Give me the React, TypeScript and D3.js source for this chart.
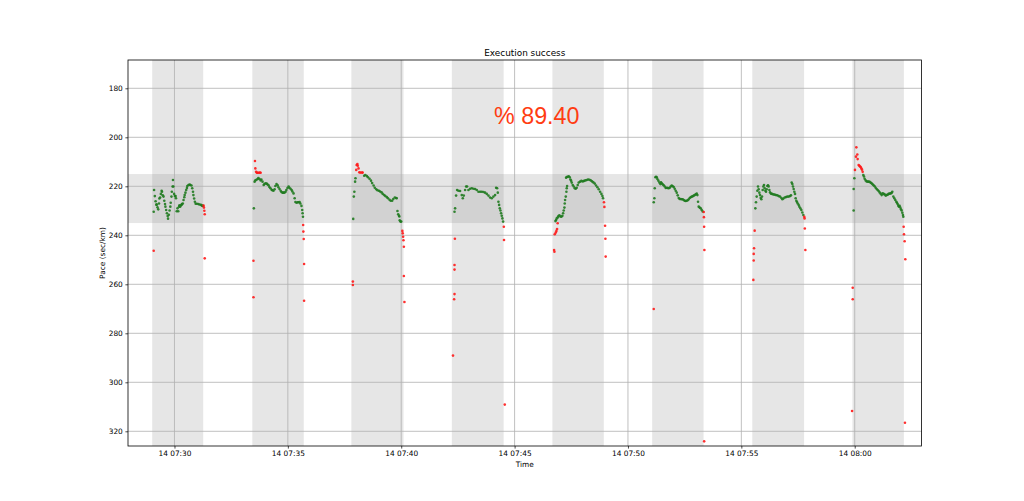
import { useEffect, useRef } from 'react';
import * as d3 from 'd3';

// [seconds after 07:00:00, pace sec/km]
const rep1: [number, number][] = [
  [1745, 230.4], [1746, 221.5], [1748, 224.0], [1750, 226.1], [1752, 227.5], [1753, 227.5], [1755, 228.6], [1757, 229.4],
  [1759, 227.0], [1760, 225.0], [1762, 224.6], [1764, 223.1], [1766, 221.8], [1767, 222.2], [1769, 223.7], [1771, 224.2],
  [1773, 225.9], [1775, 227.2], [1776, 228.3], [1778, 229.7], [1780, 231.0], [1782, 232.1], [1783, 233.2], [1785, 231.6],
  [1787, 229.9], [1789, 228.3], [1790, 226.7], [1792, 224.2], [1793, 222.2], [1795, 220.1], [1796, 217.4], [1797, 220.1],
  [1799, 223.1], [1801, 224.0], [1803, 224.0], [1804, 224.9], [1806, 230.2], [1808, 229.0], [1810, 230.2], [1812, 228.3],
  [1813, 227.8], [1815, 228.3], [1817, 227.8], [1819, 227.5], [1820, 227.2], [1822, 227.0], [1824, 225.6], [1826, 224.5],
  [1827, 223.6], [1829, 222.6], [1831, 221.5], [1833, 220.7], [1834, 219.9], [1837, 219.5], [1840, 219.3], [1842, 219.5],
  [1845, 219.7], [1847, 220.8], [1849, 222.2], [1850, 223.6], [1852, 225.0], [1854, 226.3], [1856, 227.1], [1859, 227.1],
  [1863, 227.2], [1866, 227.4], [1870, 227.6], [1873, 227.9], [1875, 228.0],
  [1877, 227.9], [1878, 228.7], [1879, 230.0], [1880, 231.4], [1745, 246.3], [1880, 249.4],
];

const rep2: [number, number][] = [
  [2010, 229.0], [2012, 218.1], [2014, 217.6], [2017, 217.3], [2020, 217.0], [2022, 216.6], [2025, 217.0], [2028, 217.6],
  [2030, 217.2], [2033, 218.1], [2036, 219.5], [2038, 219.1], [2041, 218.8], [2044, 218.9], [2046, 219.2], [2049, 219.6],
  [2051, 220.3], [2054, 220.8], [2057, 221.4], [2059, 221.6], [2062, 221.8], [2065, 221.2], [2067, 219.9], [2070, 219.1],
  [2073, 219.6], [2075, 220.4], [2078, 221.1], [2081, 221.8], [2083, 222.3], [2086, 222.6], [2088, 222.6], [2091, 222.6],
  [2094, 222.2], [2096, 221.5], [2099, 220.7], [2102, 220.1], [2104, 220.6], [2107, 221.0], [2110, 221.5], [2112, 222.1],
  [2115, 222.9], [2118, 224.9], [2120, 226.4], [2123, 226.7], [2126, 226.5], [2128, 226.5], [2131, 226.4], [2133, 227.0],
  [2136, 228.0], [2138, 229.7], [2139, 231.0], [2140, 232.4],
  [2009, 250.4], [2009, 265.3], [2013, 209.7], [2014, 212.7], [2016, 214.1], [2018, 214.5], [2020, 214.5], [2023, 214.5],
  [2026, 214.4], [2028, 214.5], [2140.5, 235.8], [2141, 238.5], [2142, 241.5], [2143, 251.7], [2143, 266.7],
];

const rep3: [number, number][] = [
  [2273, 233.3], [2274.5, 224.2], [2276, 222.2], [2278, 218.1], [2279, 216.7], [2302, 215.7], [2305, 215.4], [2309, 215.8],
  [2312, 216.3], [2316, 216.9], [2320, 217.7], [2323, 218.7], [2327, 219.7], [2330, 220.6], [2334, 221.2], [2337, 221.6],
  [2341, 221.8], [2344, 222.1], [2348, 222.5], [2351, 223.1], [2355, 223.6], [2358, 224.0], [2362, 224.4], [2365, 224.9],
  [2369, 225.5], [2372, 225.9], [2376, 225.9], [2379, 225.2], [2383, 224.6], [2386.5, 224.8], [2388, 224.9], [2390, 230.1],
  [2392, 231.4], [2394, 232.0], [2395, 232.3], [2396, 233.9], [2398, 234.4], [2400, 234.4],
  [2281, 213.3], [2282, 211.3], [2284, 210.9], [2285, 211.6], [2287, 212.7], [2289, 214.3], [2292, 214.4], [2296, 214.4],
  [2298, 214.4], [2403, 238.2], [2404, 239.2], [2405, 240.6], [2406, 242.0], [2407, 244.7], [2272, 258.9], [2272, 260.3],
  [2407, 256.6], [2408.5, 267.2],
];

const rep4: [number, number][] = [
  [2541, 230.4], [2542.6, 229.0], [2545.2, 223.8], [2547.9, 221.5], [2551.4, 221.8], [2555.8, 221.9], [2560.2, 223.6],
  [2562.9, 224.9], [2565.5, 223.8], [2569, 221.5], [2571.7, 220.1], [2574.3, 220.1], [2577.9, 221.5], [2582.3, 221.0],
  [2586.7, 220.8], [2591.1, 221.0], [2595.5, 221.1], [2599.9, 221.5], [2604.3, 222.2], [2608.7, 222.2], [2613.1, 222.2],
  [2617.6, 222.3], [2622, 222.6], [2626.4, 223.1], [2630.8, 223.8], [2635.2, 224.6], [2639.6, 224.9], [2644, 224.2],
  [2648.4, 223.6], [2651.1, 220.6], [2653.7, 220.8], [2655.5, 222.6], [2657.2, 226.3], [2659, 227.6], [2660.8, 229.0],
  [2662.5, 229.9], [2664.3, 231.0], [2666, 232.0], [2667.8, 233.1], [2669.6, 234.4],
  [2671.5, 236.5], [2672, 241.9], [2674, 309.1], [2542, 241.4], [2541, 252.1], [2541, 254.0], [2541, 264.0],
  [2540, 266.1], [2537, 289.1],
];

const rep5: [number, number][] = [
  [2808, 234.2], [2809.8, 233.8], [2811.5, 233.1], [2814.2, 232.7], [2816, 232.1], [2818.6, 231.8], [2821.2, 232.3],
  [2823.9, 232.4], [2826.5, 232.0], [2828.3, 231.0], [2830, 229.9], [2831.8, 228.7], [2832.7, 227.0], [2833.6, 225.6],
  [2835.4, 224.2], [2837.1, 222.2], [2838, 220.8], [2838.9, 219.9], [2836.2, 216.5], [2838, 216.2], [2840.6, 216.1],
  [2843.3, 215.9], [2845.9, 216.3], [2847.7, 217.2], [2849.5, 217.7], [2851.2, 218.5], [2853.9, 219.5], [2856.5, 220.1],
  [2859.2, 220.8], [2861.8, 221.0], [2864.4, 220.6], [2867.1, 219.5], [2869.7, 218.5], [2873.3, 218.1], [2876.8, 217.8],
  [2880.3, 218.0], [2883.8, 217.8], [2887.4, 217.6], [2890.9, 217.4], [2894.4, 217.2], [2898, 217.3], [2901.5, 217.6],
  [2905, 218.0], [2908.5, 218.4], [2912.1, 218.9], [2915.6, 219.7], [2919.1, 220.4], [2922.6, 221.2], [2926.2, 222.2],
  [2929.7, 223.1], [2932.4, 224.0], [2934.1, 224.9],
  [2804.5, 246.0], [2805.4, 246.7], [2806.2, 239.6], [2809, 238.9], [2810.7, 238.2], [2812.4, 237.4], [2814, 235.1],
  [2936.5, 226.5], [2937.6, 228.4], [2939.4, 236.1], [2940.3, 241.4], [2941, 248.7],
];

const rep6: [number, number][] = [
  [3068.2, 226.5], [3069.9, 224.9], [3070.8, 220.8], [3072.6, 216.3], [3074.3, 216.1], [3076.1, 216.3], [3077.8, 217.0],
  [3080.5, 217.7], [3083.1, 218.5], [3085.8, 219.1], [3087.5, 218.4], [3089.3, 218.8], [3092, 219.2], [3094.6, 219.6],
  [3097.2, 220.1], [3099.9, 220.7], [3102.5, 220.6], [3105.2, 220.7], [3107.8, 220.8], [3110.5, 220.6], [3113.1, 220.1],
  [3115.8, 219.7], [3118.4, 220.0], [3121.1, 220.3], [3123.7, 221.0], [3126.3, 221.8], [3129, 222.6], [3131.6, 223.7],
  [3134.3, 224.8], [3136.9, 225.2], [3139.6, 225.2], [3142.2, 225.3], [3144.9, 225.3], [3147.5, 225.6], [3150.2, 225.9],
  [3152.8, 226.0], [3155.4, 225.9], [3158.1, 225.7], [3160.7, 225.3], [3163.4, 224.8], [3166, 224.5], [3168.7, 224.2],
  [3171.3, 224.1], [3174, 223.8], [3176.6, 223.6], [3179.3, 223.3], [3181.9, 223.0], [3183.7, 223.6], [3185.4, 226.3],
  [3187.2, 228.3], [3189.8, 228.7], [3192.5, 229.0], [3195.1, 229.7], [3197.8, 230.3],
  [3200.5, 230.5], [3201, 232.6], [3201.5, 236.5], [3202.2, 246.0], [3201.6, 324.1], [3068.2, 270.1],
];

const rep7: [number, number][] = [
  [3337.1, 229.0], [3338.8, 226.5], [3340.6, 224.2], [3342.4, 221.8], [3344.1, 220.1], [3345.9, 221.2], [3347.7, 222.6],
  [3349.4, 223.6], [3351.2, 224.8], [3353, 225.3], [3354.7, 224.2], [3356.5, 221.5], [3358.2, 220.1], [3360, 219.5],
  [3361.8, 220.8], [3363.5, 221.8], [3365.3, 222.2], [3367.1, 221.2], [3368.8, 219.9], [3370.6, 219.6], [3372.3, 220.1],
  [3374.1, 221.5], [3375.9, 222.5], [3378.5, 223.0], [3381.2, 223.1], [3384.7, 223.3], [3388.2, 223.4], [3391.7, 223.6],
  [3395.3, 223.7], [3398.8, 224.0], [3402.3, 224.2], [3405.9, 224.8], [3408.5, 225.3], [3411.2, 225.0], [3414.7, 224.6],
  [3418.2, 224.4], [3421.7, 224.2], [3425.3, 224.2], [3428.8, 224.0], [3431.4, 223.7], [3433.2, 218.5], [3435, 219.1],
  [3436.7, 220.1], [3438.5, 221.1], [3440.2, 222.2], [3442, 223.1], [3443.8, 224.9], [3445.5, 225.9], [3447.3, 226.4],
  [3449.1, 227.0], [3451.7, 227.6], [3453.5, 228.3], [3456.1, 229.0], [3458.8, 229.7], [3461.4, 230.7], [3464.1, 231.7],
  [3466.5, 232.4], [3467.3, 233.1], [3468, 237.2], [3469.4, 246.0], [3335.3, 238.1], [3333.6, 245.3], [3332.7, 247.6],
  [3332.7, 250.3], [3331.8, 258.2],
];

const rep8: [number, number][] = [
  [3597.2, 229.9], [3597.2, 221.1], [3599, 216.7], [3622.8, 215.4], [3624.5, 216.0], [3626.3, 216.9], [3629, 217.6],
  [3631.6, 218.0], [3634.3, 218.1], [3636.9, 218.1], [3639.5, 218.2], [3642.2, 218.5], [3644.8, 218.8], [3647.5, 219.2],
  [3650.1, 219.6], [3652.8, 220.0], [3655.4, 220.6], [3658.1, 221.1], [3660.7, 221.5], [3663.4, 221.9], [3666, 222.5],
  [3668.6, 223.0], [3671.3, 223.6], [3673.9, 222.9], [3676.6, 223.1], [3679.2, 223.3], [3681.9, 223.8], [3684.5, 223.6],
  [3687.2, 223.4], [3689.8, 223.1], [3692.4, 223.0], [3695.1, 222.9], [3697.7, 222.7], [3699.5, 222.2], [3702.2, 224.2],
  [3704.8, 224.9], [3707.4, 225.6], [3710.1, 226.3], [3711.8, 226.7], [3713.6, 227.2], [3715.4, 227.9], [3717.1, 228.3],
  [3718.9, 228.0], [3720.7, 228.7], [3722.4, 229.4], [3724.2, 229.9], [3726, 230.8], [3727.7, 231.7], [3728.6, 232.4],
  [3600.7, 213.3], [3603.4, 207.9], [3604.3, 204.1], [3606.9, 207.0], [3607.8, 208.9], [3610.4, 211.3], [3612.2, 211.6],
  [3614, 211.9], [3615.7, 212.1], [3617.5, 212.7], [3619.3, 213.2], [3621, 214.1], [3729.5, 236.5], [3730.4, 239.6],
  [3732.1, 242.4], [3733.9, 249.8], [3733, 316.5], [3594.7, 261.4], [3594.7, 266.1], [3593, 311.7],
];

const reps = [rep1, rep2, rep3, rep4, rep5, rep6, rep7, rep8];

// work intervals (shaded columns)
const intervalStarts = ['07:29:01', '07:33:26', '07:37:48', '07:42:14', '07:46:40', '07:51:04', '07:55:29', '07:59:54'];
const intervalEnds = ['07:31:16', '07:35:42', '07:40:06', '07:44:31', '07:48:56', '07:53:20', '07:57:46', '08:02:10'];

// target pace band
const paceBand = [215, 235];

const xTickTimes = ['07:30', '07:35', '07:40', '07:45', '07:50', '07:55', '08:00'];
const xTickLabels = ['14 07:30', '14 07:35', '14 07:40', '14 07:45', '14 07:50', '14 07:55', '14 08:00'];
const yTicks = [180, 200, 220, 240, 260, 280, 300, 320];
const xLimits = ['07:27:57', '08:02:57'];
const yLimits = [168.45, 326.0];

const successText = '% 89.40';

const toSec = (s: string) => {
  const p = s.split(':').map(Number);
  return (p[0] - 7) * 3600 + p[1] * 60 + (p[2] || 0);
};

export default function App() {
  const svgRef = useRef<SVGSVGElement>(null);

  useEffect(() => {
    if (!svgRef.current) return;
    const svg = d3.select(svgRef.current);
    svg.selectAll('*').remove();

    const width = 1024;
    const height = 501;
    const margin = { top: 60, right: 102.4, bottom: 55, left: 128 };
    const innerW = width - margin.left - margin.right;
    const innerH = height - margin.top - margin.bottom;
    const font = '"DejaVu Sans", sans-serif';

    svg.attr('width', width).attr('height', height);
    svg.append('rect').attr('width', width).attr('height', height).attr('fill', '#fff');

    const x = d3.scaleLinear().domain(xLimits.map(toSec)).range([0, innerW]);
    const y = d3.scaleLinear().domain(yLimits).range([0, innerH]);

    const g = svg.append('g').attr('transform', `translate(${margin.left},${margin.top})`);

    const windows = intervalStarts.map((s, i) => [toSec(s), toSec(intervalEnds[i])]);

    // shaded target band + intervals
    g.append('rect')
      .attr('x', 0)
      .attr('width', innerW)
      .attr('y', y(paceBand[0]))
      .attr('height', y(paceBand[1]) - y(paceBand[0]))
      .attr('fill', 'gray')
      .attr('opacity', 0.2);

    g.selectAll('.span')
      .data(windows)
      .enter()
      .append('rect')
      .attr('x', d => x(d[0]))
      .attr('width', d => x(d[1]) - x(d[0]))
      .attr('y', 0)
      .attr('height', innerH)
      .attr('fill', 'gray')
      .attr('opacity', 0.2);

    // grid
    g.selectAll('.gx')
      .data(xTickTimes)
      .enter()
      .append('line')
      .attr('x1', d => x(toSec(d)))
      .attr('x2', d => x(toSec(d)))
      .attr('y1', 0)
      .attr('y2', innerH)
      .attr('stroke', '#b0b0b0')
      .attr('stroke-width', 0.8);

    g.selectAll('.gy')
      .data(yTicks)
      .enter()
      .append('line')
      .attr('x1', 0)
      .attr('x2', innerW)
      .attr('y1', d => y(d))
      .attr('y2', d => y(d))
      .attr('stroke', '#b0b0b0')
      .attr('stroke-width', 0.8);

    // points: green when inside an interval and within the target band
    const isHit = (t: number, p: number) =>
      p >= paceBand[0] && p <= paceBand[1] && windows.some(w => t >= w[0] && t <= w[1]);

    const pts = reps.flat();
    g.selectAll('.pt')
      .data(pts)
      .enter()
      .append('circle')
      .attr('cx', d => x(d[0]))
      .attr('cy', d => y(d[1]))
      .attr('r', 1.3)
      .attr('fill', d => (isHit(d[0], d[1]) ? '#1f7a1f' : '#ff1a1a'))
      .attr('opacity', 0.9);

    // axes
    const xAxis = g.append('g')
      .attr('transform', `translate(0,${innerH})`)
      .call(
        d3.axisBottom(x)
          .tickValues(xTickTimes.map(toSec))
          .tickFormat((_, i) => xTickLabels[i])
          .tickSize(2.6)
          .tickPadding(2.6)
          .tickSizeOuter(0)
      );
    const yAxis = g.append('g')
      .call(
        d3.axisLeft(y)
          .tickValues(yTicks)
          .tickFormat(d => String(d))
          .tickSize(2.6)
          .tickPadding(2.6)
          .tickSizeOuter(0)
      );
    [xAxis, yAxis].forEach(a => {
      a.select('.domain').remove();
      a.selectAll('line').attr('stroke', '#000').attr('stroke-width', 0.7);
      a.selectAll('text').attr('font-family', font).attr('font-size', 7.4).attr('fill', '#000');
    });

    // frame
    g.append('rect')
      .attr('width', innerW)
      .attr('height', innerH)
      .attr('fill', 'none')
      .attr('stroke', '#000')
      .attr('stroke-width', 0.8);

    // labels
    svg.append('text')
      .attr('x', margin.left + innerW / 2)
      .attr('y', 55.5)
      .attr('text-anchor', 'middle')
      .attr('font-family', font)
      .attr('font-size', 8.9)
      .text('Execution success');

    svg.append('text')
      .attr('x', margin.left + innerW / 2)
      .attr('y', 467)
      .attr('text-anchor', 'middle')
      .attr('font-family', font)
      .attr('font-size', 7.4)
      .text('Time');

    svg.append('text')
      .attr('transform', `translate(105,${margin.top + innerH / 2}) rotate(-90)`)
      .attr('text-anchor', 'middle')
      .attr('font-family', font)
      .attr('font-size', 7.4)
      .text('Pace (sec/km)');

    svg.append('text')
      .attr('x', 494)
      .attr('y', 124)
      .attr('font-family', '"Liberation Sans", Arial, sans-serif')
      .attr('font-size', 23.3)
      .attr('fill', '#ff3c12')
      .text(successText);
  }, []);

  return (
    <svg ref={svgRef} style={{ position: 'absolute', left: 0, top: 0, display: 'block' }}></svg>
  );
}
